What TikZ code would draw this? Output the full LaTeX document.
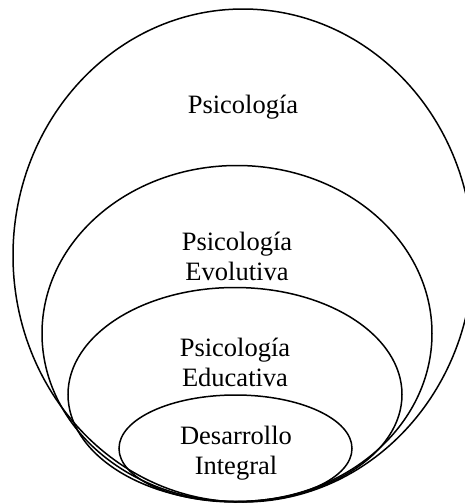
\documentclass[tikz,border=0pt]{standalone}
\usepackage{fontspec}
\setmainfont{Liberation Serif}
\tikzset{
  ring/.style={draw=black, line width=1.5pt},
  lbl/.style={align=center, inner sep=0pt, font=\fontsize{26.5}{30}\selectfont}
}
\begin{document}
\begin{tikzpicture}[x=1pt,y=-1pt]
\useasboundingbox (0,0) rectangle (465,504);
\fill[white] (0,0) rectangle (465,504);
\begin{scope}
\clip (0,0) rectangle (465,504);
\draw[ring] (243,255.5) ellipse [x radius=230pt, y radius=246.5pt];
\draw[ring] (237,333.5) ellipse [x radius=195pt, y radius=168pt];
\draw[ring] (235,394.5) ellipse [x radius=167pt, y radius=107pt];
\draw[ring] (235.5,448.5) ellipse [x radius=116.5pt, y radius=53.5pt];
\end{scope}
\node[lbl, anchor=base] (psi) at (243,113) {Psicología};
\node[lbl, anchor=center] (evo) at (237,256) {Psicología\\Evolutiva};
\node[lbl, anchor=center] (edu) at (235,362) {Psicología\\Educativa};
\node[lbl, anchor=center] (des) at (236,453) {Desarrollo\\Integral};
\end{tikzpicture}
\end{document}
